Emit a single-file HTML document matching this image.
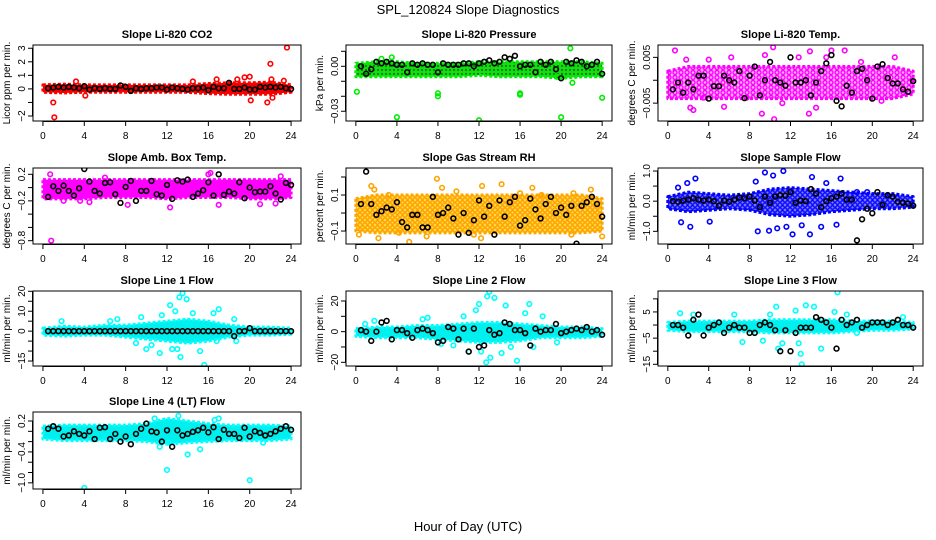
<!DOCTYPE html>
<html><head><meta charset="utf-8">
<style>
html,body{margin:0;padding:0;background:#fff;}
svg{display:block;font-family:"Liberation Sans",sans-serif;}
</style></head>
<body>
<svg id="chart" width="936" height="540" viewBox="0 0 936 540" xmlns="http://www.w3.org/2000/svg">
<defs>
<pattern id="pat-pres" width="4" height="4" patternUnits="userSpaceOnUse"><rect width="4" height="4" fill="#11dd11"/><circle cx="2" cy="2" r="0.7" fill="#000"/></pattern>
<pattern id="pat-temp" width="6" height="5" patternUnits="userSpaceOnUse"><rect width="6" height="5" fill="#ffb0ff"/><circle cx="3" cy="2.5" r="2" fill="none" stroke="#ff00ff" stroke-width="1.4"/></pattern>
<pattern id="pat-rh" width="5" height="5" patternUnits="userSpaceOnUse"><rect width="5" height="5" fill="#ffe040"/><circle cx="2.5" cy="2.5" r="1.8" fill="none" stroke="#ff9a00" stroke-width="1.3"/></pattern>
<pattern id="pat-flow" width="5" height="5" patternUnits="userSpaceOnUse"><rect width="5" height="5" fill="#8080ff"/><circle cx="2.5" cy="2.5" r="1.8" fill="none" stroke="#0000ff" stroke-width="1.3"/></pattern>
</defs>
<text x="468" y="14" text-anchor="middle" font-size="13">SPL_120824  Slope Diagnostics</text>
<text x="468" y="531" text-anchor="middle" font-size="13">Hour of Day (UTC)</text>
</svg>
<script>
// ---- data ----
const bandHours = [0,2,4,6,8,10,12,14,16,18,20,22,24];
const xTicks = [0,4,8,12,16,20,24];

const co2BandLo = [-0.25,-0.3,-0.25,-0.25,-0.25,-0.25,-0.25,-0.25,-0.35,-0.4,-0.4,-0.4,-0.25];
const co2BandHi = [0.3,0.35,0.3,0.3,0.3,0.3,0.3,0.3,0.4,0.45,0.45,0.5,0.3];
const co2OutH = [1,1.1,3.2,4.1,16.8,19.5,20,20.1,21.7,22,22.1,22.2,23.6,23.3,14.5,18.8];
const co2OutV = [-1,-2.1,0.55,-0.5,0.7,0.85,0.9,-0.85,-1.0,1.85,0.7,-0.65,3.05,0.6,0.55,0.7];
const co2Black = [0.05,0.1,0.15,0.1,0.15,0.1,0.05,0.2,-0.05,0.05,0.0,0.05,0.0,0.0,0.25,0.15,-0.15,0.05,0.0,0.05,0.05,0.1,0.1,-0.05,0.1,0.05,0.0,-0.05,0.05,0.05,0.1,-0.1,0.15,0.05,0.05,0.45,0.0,0.0,0.1,-0.05,-0.05,0.15,0.1,0.15,0.1,0.15,0.05,0.0];

const presBandLo = [-0.007,-0.007,-0.007,-0.007,-0.007,-0.007,-0.006,-0.007,-0.007,-0.007,-0.008,-0.007,-0.007];
const presBandHi = [0.002,0.003,0.003,0.002,0.002,0.002,0.003,0.003,0.003,0.003,0.003,0.003,0.002];
const presOutH = [0.1,4,8,8,12,16,16,20,24,20.9,21.1,19.6,3.5,2.5];
const presOutV = [-0.017,-0.034,-0.020,-0.018,-0.036,-0.019,-0.018,-0.034,-0.021,0.012,-0.011,-0.007,0.006,0.005];
const presBlack = [0.0,-0.005,-0.002,0.003,0.002,0.003,0.002,0.001,0.001,-0.004,0.002,0.001,0.002,0.001,0.001,-0.004,0.002,0.001,0.001,0.001,0.002,0.002,0.0,0.002,0.003,0.004,0.002,0.003,0.006,0.005,0.007,0.0,0.001,0.001,-0.004,0.003,0.001,0.003,-0.002,-0.008,0.003,0.002,0.004,0.003,0.0,0.001,0.003,-0.005];

const tempBandLo = [-0.004,-0.004,-0.004,-0.004,-0.004,-0.004,-0.004,-0.004,-0.004,-0.004,-0.004,-0.004,-0.003];
const tempBandHi = [0.002,0.003,0.003,0.003,0.003,0.003,0.003,0.003,0.003,0.003,0.003,0.003,0.002];
const tempOutH = [0.7,2.2,2.5,4,5.5,6.2,9.2,9.5,10.3,10.4,12.8,13.9,13.8,14.5,16,17.3,18.9,22.2,20.9,11.2,3.5,7.7,1.8,15.5];
const tempOutV = [0.0065,-0.006,-0.0065,0.0045,-0.0058,0.005,-0.0073,0.0055,0.0072,-0.0085,0.005,0.0063,-0.0073,-0.006,0.0065,0.0065,0.004,0.005,-0.0045,-0.005,-0.0038,-0.0038,0.0045,0.005];
const tempBlack = [-0.002,-0.0005,-0.0027,-0.0005,-0.002,0.001,0.001,-0.004,-0.0013,-0.0013,0.001,0.0,-0.0005,0.002,-0.0039,0.001,0.003,-0.0033,0.0,0.004,0.0,-0.0005,-0.0012,0.005,-0.0005,-0.0005,0.0,-0.0033,-0.0005,0.002,0.0037,0.0055,-0.0045,-0.0057,-0.0012,-0.0027,0.002,0.0025,0.0,-0.004,0.003,0.0035,0.0005,-0.0007,-0.0007,-0.002,-0.0025,-0.0002];

const ambBandLo = [-0.17,-0.17,-0.17,-0.15,-0.15,-0.15,-0.17,-0.15,-0.15,-0.15,-0.17,-0.17,-0.15];
const ambBandHi = [0.12,0.12,0.12,0.12,0.12,0.12,0.12,0.12,0.12,0.12,0.12,0.12,0.12];
const ambOutH = [0.8,0.7,3.6,4.5,8.2,12.3,16.2,17,21,22.5,16,23,2,6];
const ambOutV = [-0.8,0.2,-0.2,-0.22,-0.26,-0.3,0.22,-0.26,-0.25,-0.24,0.2,0.17,-0.2,0.15];
const ambBlack = [-0.14,0.02,-0.05,0.03,-0.05,-0.12,-0.01,0.28,0.09,-0.05,-0.09,0.07,0.08,-0.1,-0.23,0.01,0.1,-0.2,-0.05,-0.05,0.1,-0.1,-0.12,0.04,-0.17,0.11,0.09,0.12,-0.14,-0.09,-0.04,0.08,-0.12,0.2,-0.11,-0.06,-0.09,0.08,-0.16,0.0,-0.07,-0.06,-0.06,0.02,-0.09,-0.18,0.07,0.04];

const rhBandLo = [-0.1,-0.11,-0.11,-0.11,-0.11,-0.11,-0.11,-0.11,-0.11,-0.11,-0.11,-0.11,-0.1];
const rhBandHi = [0.08,0.1,0.1,0.1,0.1,0.1,0.1,0.1,0.1,0.1,0.1,0.1,0.08];
const rhOutH = [1.5,1.8,2.2,5.2,6.9,7.9,8.4,12.3,14.2,16,17.2,18.1,21.2,22.9,21,12.2,11.5,24,0.3,3.2,4.2,9.8];
const rhOutV = [0.15,0.13,-0.14,-0.16,-0.13,0.19,0.14,0.15,0.16,0.11,0.14,0.1,0.11,0.13,-0.12,-0.14,-0.12,-0.13,-0.12,0.1,-0.11,0.12];
const rhBlack = [0.05,0.23,0.05,-0.01,0.01,0.03,0.02,0.06,-0.05,-0.08,-0.01,-0.01,-0.08,-0.08,0.09,-0.01,0.0,0.03,-0.03,-0.12,0.0,-0.11,-0.04,0.07,-0.02,0.04,-0.12,0.07,-0.02,0.06,0.09,-0.07,-0.04,0.08,0.02,-0.03,0.05,0.09,0.0,0.03,-0.01,0.04,-0.17,0.04,0.06,0.09,0.05,-0.02];

const flowBandLo = [-0.25,-0.35,-0.3,-0.25,-0.3,-0.45,-0.5,-0.45,-0.35,-0.3,-0.25,-0.25,-0.2];
const flowBandHi = [0.15,0.3,0.25,0.2,0.25,0.4,0.45,0.4,0.35,0.3,0.25,0.25,0.15];
const flowOutH = [1,1.3,1.9,2.2,2.7,4.1,8.6,8.8,9.5,9.9,10.3,10.7,11.3,11.6,12.2,13.1,13.9,14.1,15,15.5,16.5,16.9,18.5,19.5];
const flowOutV = [0.45,-0.7,0.6,-0.85,0.75,-0.68,0.65,-1.0,0.95,-0.98,0.85,-0.9,1.0,-0.85,-1.1,-0.8,-1.1,0.8,-0.85,0.6,-0.78,0.75,0.3,0.3];
const flowBlack = [0.0,-0.02,0.02,0.05,0.1,0.05,0.02,0.05,0.0,-0.15,0.02,-0.02,0.05,0.12,0.1,0.15,0.02,-0.2,0.15,-0.05,0.15,0.2,0.18,0.3,-0.05,0.02,0.0,0.4,0.25,-0.2,0.0,0.1,0.15,0.25,0.05,0.05,-1.3,-0.6,-0.25,-0.4,0.3,-0.12,0.2,0.15,-0.02,-0.05,-0.08,-0.15];

const l1BandLo = [-2,-2.5,-2,-2,-3,-4,-5,-6,-5,-3,-2,-2,-1.5];
const l1BandHi = [1.5,2.5,2,3,3,4,5,6,5,3,2,2,1.5];
const l1OutH = [1.8,6.5,7.2,9.5,10,11.5,11.3,12.3,12.5,13.2,13.5,13.9,13.3,13,14.5,15.6,15.2,16.5,17,16.8,18.5,18.7,12.8,10.5,9];
const l1OutV = [5,5,6,7,-9,8,-11,13,-9,17,19,16,-13,-9,9,-17,-10,9,11,-5,6,-5,10,-7,-6];
const l1Black = [0,0,0,0,0,0,0,0,0,0,0,0,0,0,0,0,0,0,0,0,0,0,0,0,0,0,0,0,0,0,0,0,0,0,0,0,-2.5,0,0,1.5,0,0,0,0,0,0,0,0];

const l2BandLo = [-3,-4,-4,-4,-5,-6,-7,-7,-6,-4,-4,-4,-3];
const l2BandHi = [2,3,3,4,4,5,6,6,5,4,3,3,2];
const l2OutH = [0.9,1.8,6.5,7,8.3,10.5,11.7,12,12.8,13,13.5,12.7,13.1,12.2,14.2,14.6,15.1,15.7,16.5,16.9,17.3,11,9.5,18.2,19.6];
const l2OutV = [5,7,8,9,-8,10,14,18,23,26,22,-20,-17,-13,-14,17,-10,-19,12,18,-10,-13,-9,10,-7];
const l2Black = [1,0,-6,0,6,7,-5,1,1,-1,-4,1,2,1,-1,-7,-6,3,2,-5,2,-13,2,-10,-9,1,-2,-1,6,5,1,1,-1,-9,2,0,1,1,5,-1,0,1,2,1,3,0,1,-2];

const l3BandLo = [-2,-2.5,-2.5,-2.5,-2.5,-3,-3,-3,-3,-2.5,-2,-2,-1.5];
const l3BandHi = [1,1.5,1.5,1.5,1.5,2,2,2,2,1.5,1.5,1.5,1];
const l3OutH = [1.2,2.5,6.5,7.3,9.3,10.6,10.8,11.2,12.5,12.8,13,13.1,13.5,14.3,15,16.6,16.3,17.5,18.5,23,10];
const l3OutV = [4.5,4,4,-6.5,-6,7,-9,-7,5.5,-7,-11,-15,7.5,7,-9,12.5,5,4,-3,3,4];
const l3Black = [0,0,-1,-4,2,4,-4,-1,0,1,-3,-1,0,-1,-1,-3,-3,0,1,0,-2,-10,-2,-10,-3,-1,-1,-1,3,2,1,-1,-9,2,0,1,2,-1,0,1,1,1,0,1,2,0,0,-1];

const l4BandLo = [-0.15,-0.18,-0.18,-0.18,-0.18,-0.2,-0.25,-0.22,-0.2,-0.18,-0.18,-0.18,-0.15];
const l4BandHi = [0.1,0.12,0.12,0.12,0.12,0.15,0.25,0.2,0.15,0.12,0.12,0.12,0.1];
const l4OutH = [4,12,14,20,10.8,11.3,12.1,13.1,15.2,16.6,17,21.3];
const l4OutV = [-1.1,-0.75,-0.45,-0.95,0.25,-0.3,-0.22,0.3,-0.35,0.22,0.25,-0.22];
const l4Black = [0.05,0.1,0.05,-0.1,-0.08,0.0,-0.05,-0.08,0.0,-0.15,0.07,0.08,-0.15,-0.05,-0.2,-0.1,-0.25,-0.05,0.05,0.15,0.0,-0.02,-0.2,0.02,-0.3,0.02,-0.08,-0.05,-0.01,0.02,0.07,-0.02,0.08,-0.15,0.03,-0.05,-0.05,-0.13,0.07,-0.1,0.0,-0.03,-0.08,-0.05,0.0,0.05,0.1,0.03];

const panels = [
 {name:'co2',title:'Slope Li-820 CO2',ylab:'Licor ppm per min.',col:0,row:0,color:'#ff0000',band:'#f00000',ylim:[-2.37,3.24],ticks:[3,2,1,0,-1,-2],labels:['3','2','1','0','','\u22122'],lo:co2BandLo,hi:co2BandHi,oh:co2OutH,ov:co2OutV,blk:co2Black},
 {name:'pressure',title:'Slope Li-820 Pressure',ylab:'kPa per min.',col:1,row:0,color:'#00ee00',band:'url(#pat-pres)',ylim:[-0.0365,0.0142],ticks:[0.01,0,-0.01,-0.02,-0.03],labels:['','0.00','','','\u22120.03'],lo:presBandLo,hi:presBandHi,oh:presOutH,ov:presOutV,blk:presBlack},
 {name:'temp',title:'Slope Li-820 Temp.',ylab:'degrees C per min.',col:2,row:0,color:'#ff00ff',band:'url(#pat-temp)',ylim:[-0.0089,0.0077],ticks:[0.005,0,-0.005],labels:['0.005','','\u22120.005'],lo:tempBandLo,hi:tempBandHi,oh:tempOutH,ov:tempOutV,blk:tempBlack},
 {name:'amb-box-temp',title:'Slope Amb. Box Temp.',ylab:'degrees C per min.',col:0,row:1,color:'#ff00ff',band:'#ff00ff',ylim:[-0.85,0.295],ticks:[0.2,0,-0.2,-0.4,-0.6,-0.8],labels:['0.2','','\u22120.2','','','\u22120.8'],lo:ambBandLo,hi:ambBandHi,oh:ambOutH,ov:ambOutV,blk:ambBlack},
 {name:'gas-rh',title:'Slope Gas Stream RH',ylab:'percent per min.',col:1,row:1,color:'#ffa500',band:'url(#pat-rh)',ylim:[-0.172,0.25],ticks:[0.2,0.1,0,-0.1],labels:['','0.1','','\u22120.1'],lo:rhBandLo,hi:rhBandHi,oh:rhOutH,ov:rhOutV,blk:rhBlack},
 {name:'sample-flow',title:'Slope Sample Flow',ylab:'ml/min per min.',col:2,row:1,color:'#0000ff',band:'url(#pat-flow)',ylim:[-1.42,1.1],ticks:[1,0.5,0,-0.5,-1],labels:['1.0','','0.0','','\u22121.0'],lo:flowBandLo,hi:flowBandHi,oh:flowOutH,ov:flowOutV,blk:flowBlack},
 {name:'line1-flow',title:'Slope Line 1 Flow',ylab:'ml/min per min.',col:0,row:2,color:'#00ffff',band:'#00f0f0',ylim:[-17.5,20.15],ticks:[20,15,10,5,0,-5,-10,-15],labels:['20','','10','','0','','','\u221215'],lo:l1BandLo,hi:l1BandHi,oh:l1OutH,ov:l1OutV,blk:l1Black},
 {name:'line2-flow',title:'Slope Line 2 Flow',ylab:'ml/min per min.',col:1,row:2,color:'#00ffff',band:'#00f0f0',ylim:[-22.4,26.5],ticks:[20,10,0,-10,-20],labels:['20','','0','','\u221220'],lo:l2BandLo,hi:l2BandHi,oh:l2OutH,ov:l2OutV,blk:l2Black},
 {name:'line3-flow',title:'Slope Line 3 Flow',ylab:'ml/min per min.',col:2,row:2,color:'#00ffff',band:'#00f0f0',ylim:[-15.65,13.0],ticks:[10,5,0,-5,-10,-15],labels:['','5','','\u22125','','\u221215'],lo:l3BandLo,hi:l3BandHi,oh:l3OutH,ov:l3OutV,blk:l3Black},
 {name:'line4-flow',title:'Slope Line 4 (LT) Flow',ylab:'ml/min per min.',col:0,row:3,color:'#00ffff',band:'#00f0f0',ylim:[-1.12,0.375],ticks:[0.2,0,-0.2,-0.4,-0.6,-0.8,-1.0],labels:['0.2','','','\u22120.4','','','\u22121.0'],lo:l4BandLo,hi:l4BandHi,oh:l4OutH,ov:l4OutV,blk:l4Black}
];

// ---- layout ----
const colX = [[33,301],[346,612],[658,923]];
const rowY = [[45,121],[168,244],[291,366],[412,489]];
const XMIN = -0.96, XMAX = 24.96;
const NS = 'http://www.w3.org/2000/svg';
const svg = document.getElementById('chart');
function mk(tag, attrs, parent){
  const e = document.createElementNS(NS, tag);
  for (const k in attrs) e.setAttribute(k, attrs[k]);
  (parent||svg).appendChild(e);
  return e;
}

panels.forEach(p => {
  const [L,R] = colX[p.col], [T,B] = rowY[p.row];
  const xs = h => L + (h - XMIN) / (XMAX - XMIN) * (R - L);
  const ys = v => B - (v - p.ylim[0]) / (p.ylim[1] - p.ylim[0]) * (B - T);
  const g = mk('g', {});
  
  
  const clipId = 'clip-' + p.name;
  const cp = mk('clipPath', {id: clipId}, g);
  mk('rect', {x:L, y:T, width:R-L, height:B-T}, cp);
  const plot = mk('g', {'clip-path':'url(#'+clipId+')'}, g);

  let pts = bandHours.map((h,i)=>xs(h)+','+ys(p.hi[i]));
  pts = pts.concat(bandHours.slice().reverse().map((h,j)=>{const i=bandHours.length-1-j;return xs(h)+','+ys(p.lo[i]);}));
  const band = mk('polygon', {points:pts.join(' '), fill:p.band, stroke:p.color, 'stroke-width':3, 'stroke-dasharray':'3 2', 'stroke-linejoin':'round'}, plot);
  
  

  p.oh.forEach((h,i)=>{
    const c = mk('circle', {cx:xs(h), cy:ys(p.ov[i]), r:2.3, fill:'none', stroke:p.color, 'stroke-width':1.6}, plot);
    
    
  });
  const n = p.blk.length;
  p.blk.forEach((v,i)=>{
    const h = (i+1)*24/n;
    const c = mk('circle', {cx:xs(h), cy:ys(v), r:2.4, fill:'none', stroke:'#000', 'stroke-width':1.6}, plot);
    
    
  });

  const box = mk('rect', {x:L, y:T, width:R-L, height:B-T, fill:'none', stroke:'#000', 'stroke-width':1}, g);
  
  

  const xa = mk('g', {}, g);
  
  
  mk('line', {x1:xs(0), x2:xs(24), y1:B+0.5, y2:B+0.5, stroke:'#000'}, xa);
  xTicks.forEach(t=>{
    mk('line', {x1:xs(t), x2:xs(t), y1:B, y2:B+5, stroke:'#000'}, xa);
    const tx = mk('text', {x:xs(t), y:B+18, 'text-anchor':'middle', 'font-size':10}, xa);
    tx.textContent = t;
    
    
  });

  const ya = mk('g', {}, g);
  
  
  const tmax = Math.max(...p.ticks), tmin = Math.min(...p.ticks);
  mk('line', {x1:L-0.5, x2:L-0.5, y1:ys(tmax), y2:ys(tmin), stroke:'#000'}, ya);
  p.ticks.forEach((t,i)=>{
    mk('line', {x1:L-5, x2:L, y1:ys(t), y2:ys(t), stroke:'#000'}, ya);
    if (p.labels[i]) {
      const yy = ys(t), xx = L-8;
      const tx = mk('text', {x:xx, y:yy, 'text-anchor':'middle', 'font-size':10, transform:'rotate(-90 '+xx+' '+yy+')'}, ya);
      tx.textContent = p.labels[i];
      
      
    }
  });
  const lx = L-23, ly = (T+B)/2;
  const yl = mk('text', {x:lx, y:ly, 'text-anchor':'middle', 'font-size':10, transform:'rotate(-90 '+lx+' '+ly+')'}, g);
  yl.textContent = p.ylab;
  
  

  const tt = mk('text', {x:(L+R)/2, y:T-7, 'text-anchor':'middle', 'font-size':11, 'font-weight':'bold'}, g);
  tt.textContent = p.title;
  
  
});
</script>
</body></html>
